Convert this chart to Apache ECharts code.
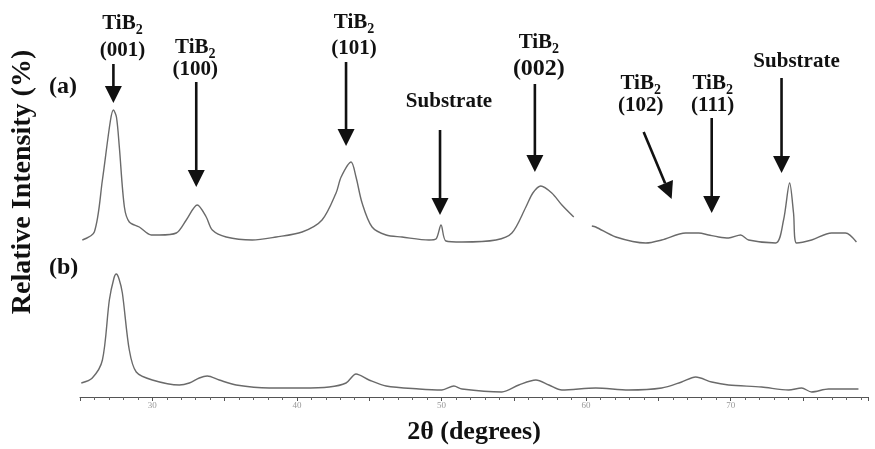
<!DOCTYPE html>
<html><head><meta charset="utf-8">
<script src="https://cdn.jsdelivr.net/npm/echarts@6/dist/echarts.min.js"></script>
<style>html,body{margin:0;padding:0;background:#fff}#c{width:875px;height:449px}</style>
</head><body><div id="c"></div>
<script>
// ---- data (2θ in degrees, relative intensity in arbitrary units) ----
const twoThetaA = [25.16,25.99,26.55,27.10,27.31,27.52,27.72,28.07,28.41,29.10,29.93,30.48,31.66,32.35,33.11,33.73,34.15,35.11,36.91,38.57,40.36,41.74,42.71,43.06,43.75,44.09,44.51,45.20,46.17,47.27,49.14,49.62,49.97,50.31,51.42,53.77,54.87,55.84,56.32,56.87,57.63,58.33,59.15,59.80,60.40,60.67,62.06,64.13,65.23,66.89,67.79,68.48,69.17,69.86,70.69,71.24,73.11,73.66,74.08,74.35,74.56,75.60,76.98,77.94,78.70];
const intensityA = [5,13,65,124,135,128,98,38,23,18,10,10,12,25,40,28,15,8,5,8,13,25,52,68,83,68,42,18,10,8,5,6,20,4,3,5,12,38,52,59,52,40,28,null,19,18,8,2,5,12,12,10,8,7,10,5,2,25,62,32,2,5,12,12,3];
const twoThetaB = [25.09,25.85,26.55,27.03,27.35,27.51,27.70,27.93,28.41,28.89,30.00,31.87,32.56,33.25,33.80,34.63,35.80,38.08,40.36,42.23,43.40,44.09,44.99,46.17,48.45,50.03,50.86,51.42,54.18,55.35,56.53,57.43,58.33,60.67,62.95,65.23,66.61,67.58,68.69,69.86,72.14,74.01,74.91,75.60,76.77,78.84];
const intensityB = [14,19,37,97,119,123,118,104,47,25,17,12,14,19,21,17,12,9,9,10,14,23,17,11,8,7,11,8,5,12,17,12,7,9,7,9,15,20,15,12,10,7,9,5,8,8];
const tickLabels = [30,40,50,60,70];
// annotations: label lines and 2θ where the arrow points
const annTop = ['TiB', 'TiB', 'TiB', '', 'TiB', 'TiB', 'TiB', ''];
const annBottom = ['(001)', '(100)', '(101)', 'Substrate', '(002)', '(102)', '(111)', 'Substrate'];
const annTheta = [27.31, 33.04, 43.40, 49.90, 56.46, 65.92, 68.69, 73.52];

const chart = echarts.init(document.getElementById('c'));
const FONT = '"Liberation Serif", "Times New Roman", serif';
const lineStyle = {color: '#6a6a6a', width: 1.4};

chart.setOption({
  animation: false,
  grid: [
    {left: 80, right: 7, top: 100, height: 145},
    {left: 80, right: 7, top: 260, height: 137}
  ],
  xAxis: [
    {gridIndex: 0, type: 'value', min: 25, max: 79.5, show: false},
    {gridIndex: 1, type: 'value', min: 25, max: 79.5, interval: 5,
     axisLine: {lineStyle: {color: '#555', width: 1}},
     axisTick: {length: 4, lineStyle: {color: '#555'}},
     minorTick: {show: true, splitNumber: 5, length: 3, lineStyle: {color: '#666'}},
     splitLine: {show: false},
     axisLabel: {fontSize: 9, color: '#999', margin: 4, fontFamily: FONT,
       formatter: v => tickLabels.includes(v) ? String(v) : ''}}
  ],
  yAxis: [
    {gridIndex: 0, type: 'value', min: 0, max: 145, show: false},
    {gridIndex: 1, type: 'value', min: 0, max: 137, show: false}
  ],
  series: [
    {type: 'line', xAxisIndex: 0, yAxisIndex: 0, showSymbol: false, smooth: 0.3, connectNulls: false,
     data: twoThetaA.map((t, i) => [t, intensityA[i]]), lineStyle},
    {type: 'line', xAxisIndex: 1, yAxisIndex: 1, showSymbol: false, smooth: 0.3,
     data: twoThetaB.map((t, i) => [t, intensityB[i]]), lineStyle}
  ]
});

// ---- annotation layout (pixel offsets for labels/arrows) ----
const px = t => chart.convertToPixel({xAxisIndex: 0}, t);
const txtDx = [9, -1, 8, 9, 4, -31, 1, 15];
const topY = [22, 46, 21, 0, 41, 82, 82, 0];
const botY = [51, 70, 49, 102, 69, 106, 106, 62];
const arrowStartY = [64, 82, 62, 130, 84, 132, 118, 78];
const arrowTipY = [103, 187, 146, 215, 172, 199, 213, 173];
const arrowStartDx = [0, 0, 0, 0, 0, -28, 0, 0];
const g = [];
function arrow(x1, y1, x2, y2) {
  const ang = Math.atan2(y2 - y1, x2 - x1);
  const L = 17, W = 8.5;
  const bx = x2 - L * Math.cos(ang), by = y2 - L * Math.sin(ang);
  const nx = -Math.sin(ang) * W, ny = Math.cos(ang) * W;
  g.push({type: 'line', shape: {x1, y1, x2: bx, y2: by}, style: {stroke: '#111', lineWidth: 2.6}});
  g.push({type: 'polygon', shape: {points: [[x2, y2], [bx + nx, by + ny], [bx - nx, by - ny]]}, style: {fill: '#111'}});
}
annTheta.forEach((t, i) => {
  const x = px(t);
  const cx = x + txtDx[i];
  if (annTop[i]) {
    g.push({type: 'text', x: cx, y: topY[i], style: {
      text: '{m|TiB}{s|2}', align: 'center', verticalAlign: 'middle',
      rich: {m: {font: 'bold 21px ' + FONT, fill: '#111', lineHeight: 24, verticalAlign: 'bottom'},
             s: {font: 'bold 14px ' + FONT, fill: '#111', lineHeight: 24, verticalAlign: 'bottom', padding: [0,0,-3,0]}}}});
  }
  const big = annBottom[i] === '(002)';
  g.push({type: 'text', x: cx, y: botY[i], style: {text: annBottom[i], align: 'center', verticalAlign: 'middle',
    font: 'bold ' + (big ? 24 : 21) + 'px ' + FONT, fill: '#111'}});
  arrow(x + arrowStartDx[i], arrowStartY[i], x, arrowTipY[i]);
});
g.push({type: 'text', x: 49, y: 87, style: {text: '(a)', align: 'left', verticalAlign: 'middle', font: 'bold 24px ' + FONT, fill: '#111'}});
g.push({type: 'text', x: 49, y: 268, style: {text: '(b)', align: 'left', verticalAlign: 'middle', font: 'bold 24px ' + FONT, fill: '#111'}});
g.push({type: 'text', x: 23, y: 182, rotation: Math.PI / 2, style: {text: 'Relative Intensity (%)', align: 'center', verticalAlign: 'middle', font: 'bold 28px ' + FONT, fill: '#111'}});
g.push({type: 'text', x: 474, y: 432, style: {text: '2θ (degrees)', align: 'center', verticalAlign: 'middle', font: 'bold 26px ' + FONT, fill: '#111'}});
chart.setOption({graphic: g});
</script></body></html>
